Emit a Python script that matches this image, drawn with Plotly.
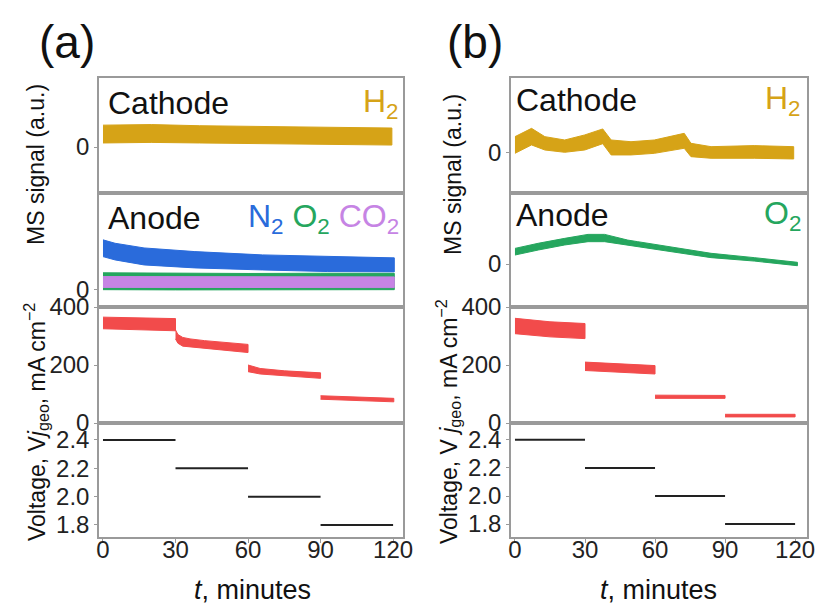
import plotly.graph_objects as go

# ---------------- data ----------------
# Panel (a)
a_h2_t = [0, 20, 40, 60, 80, 100, 119.5]
a_h2_hi = [1.90, 1.95, 1.85, 1.80, 1.75, 1.70, 1.65]
a_h2_lo = [0.35, 0.40, 0.35, 0.30, 0.25, 0.20, 0.17]

a_n2_t = [0, 5, 17, 38, 66, 93, 120.5]
a_n2_hi = [4.39, 4.09, 3.68, 3.36, 3.07, 2.92, 2.81]
a_n2_lo = [2.92, 2.63, 2.19, 1.93, 1.75, 1.61, 1.58]

a_o2_t = [0, 30, 60, 90, 120.5]
a_o2_hi = [1.50, 1.46, 1.44, 1.46, 1.45]
a_o2_lo = [0.02, 0.00, 0.02, 0.00, 0.02]

a_co2_t = [0, 30, 60, 90, 120.5]
a_co2_hi = [1.17, 1.15, 1.15, 1.14, 1.14]
a_co2_lo = [0.22, 0.20, 0.20, 0.21, 0.20]

a_j_t = [[0, 10, 20, 30], [30, 31, 33, 36, 42, 50, 60], [60, 65, 75, 90], [90, 120.3]]
a_j_hi = [[365, 363, 361, 360], [321, 305, 295, 290, 284, 278, 271], [200, 188, 180, 173], [94, 85]]
a_j_lo = [[325, 323, 320, 318], [290, 275, 265, 262, 257, 252, 243], [177, 169, 162, 154], [82, 73]]

# Panel (b)
b_h2_t = [0, 7.1, 12.8, 21.3, 29.9, 37.6, 41.2, 49.7, 59.7, 72.5, 75.4, 84, 102.5, 119.4]
b_h2_hi = [1.42, 2.14, 1.42, 1.13, 1.57, 2.09, 1.13, 0.98, 1.13, 1.71, 0.84, 0.55, 0.64, 0.55]
b_h2_lo = [-0.03, 0.70, 0.26, 0.06, 0.26, 0.81, -0.17, -0.17, -0.03, 0.41, -0.32, -0.46, -0.46, -0.52]

b_o2_t = [0, 10, 21.3, 31.3, 38.4, 48.3, 52.6, 66.8, 84, 102.5, 121]
b_o2_hi = [1.37, 1.82, 2.25, 2.60, 2.60, 2.10, 1.96, 1.52, 0.94, 0.56, 0.15]
b_o2_lo = [0.79, 1.23, 1.67, 1.96, 1.96, 1.67, 1.52, 1.08, 0.56, 0.26, -0.15]

b_j_t = [[0, 15, 30], [30, 45, 60], [60, 90], [90, 120]]
b_j_hi = [[361, 349, 343], [210, 204, 198], [96, 95], [30, 30]]
b_j_lo = [[308, 297, 291], [181, 176, 169], [85, 85], [21, 21]]

# Voltage steps (same protocol in both panels)
v_t_start = [0, 30, 60, 90]
v_t_end = [30, 60, 90, 120]
v_a = [2.4, 2.2, 2.0, 1.8]
v_b = [2.4, 2.2, 2.0, 1.8]

x_ticks = [0, 30, 60, 90, 120]
v_ticks = [1.8, 2.0, 2.2, 2.4]
v_tick_text = ["1.8", "2.0", "2.2", "2.4"]
j_ticks = [0, 200, 400]

# ---------------- styling ----------------
W, H = 816, 606
FONT = "Arial, Liberation Sans, sans-serif"
C_H2 = "#D6A317"
C_N2 = "#2A6BDB"
C_O2 = "#25A65E"
C_CO2 = "#C684E4"
C_J = "#F24B4B"
C_V = "#222222"
GRAY = "#9a9a9a"


def px(x):
    return x / W


def py(y):
    return 1 - y / H


col_dom = {"a": [px(99), px(403)], "b": [px(511), px(807)]}
col_xr = {"a": [-1.65, 124.1], "b": [-1.7, 125.1]}
row_dom = [
    [py(193), py(78)],
    [py(307), py(193)],
    [py(423), py(307)],
    [py(537), py(423)],
]

fig = go.Figure()


def band(t, lo, hi, color, ax):
    xs, ys = [], []
    for i in range(len(t)):
        tt, ll, hh = t[i], lo[i], hi[i]
        if xs:
            xs.append(None)
            ys.append(None)
        xs += list(tt) + list(tt[::-1])
        ys += list(hh) + list(ll[::-1])
    fig.add_trace(go.Scatter(x=xs, y=ys, mode="lines", fill="toself",
                             fillcolor=color, line=dict(color=color, width=1),
                             hoverinfo="skip", showlegend=False,
                             xaxis="x" + ax, yaxis="y" + ax))


def steps(t0, t1, v, ax):
    xs, ys = [], []
    for a, b, c in zip(t0, t1, v):
        xs += [a, b, None]
        ys += [c, c, None]
    fig.add_trace(go.Scatter(x=xs, y=ys, mode="lines",
                             line=dict(color=C_V, width=2),
                             hoverinfo="skip", showlegend=False,
                             xaxis="x" + ax, yaxis="y" + ax))


# axis ids: (a) rows -> "", 2, 3, 4 ; (b) rows -> 5, 6, 7, 8
ids = {"a": ["", "2", "3", "4"], "b": ["5", "6", "7", "8"]}

# panel (a)
band([a_h2_t], [a_h2_lo], [a_h2_hi], C_H2, ids["a"][0])
band([a_n2_t], [a_n2_lo], [a_n2_hi], C_N2, ids["a"][1])
band([a_o2_t], [a_o2_lo], [a_o2_hi], C_O2, ids["a"][1])
band([a_co2_t], [a_co2_lo], [a_co2_hi], C_CO2, ids["a"][1])
band(a_j_t, a_j_lo, a_j_hi, C_J, ids["a"][2])
steps(v_t_start, v_t_end, v_a, ids["a"][3])

# panel (b)
band([b_h2_t], [b_h2_lo], [b_h2_hi], C_H2, ids["b"][0])
band([b_o2_t], [b_o2_lo], [b_o2_hi], C_O2, ids["b"][1])
band(b_j_t, b_j_lo, b_j_hi, C_J, ids["b"][2])
steps(v_t_start, v_t_end, v_b, ids["b"][3])

y_ranges = {
    "a": [[-4, 6], [-1.5, 8.5], [0, 400], [1.715, 2.52]],
    "b": [[-3.48, 6.52], [-3.77, 6.23], [0, 400], [1.708, 2.52]],
}
tick_font = dict(family=FONT, size=24, color="#222")

layout = {}
for col in ["a", "b"]:
    for r in range(4):
        aid = ids[col][r]
        xkey = "xaxis" + aid
        ykey = "yaxis" + aid
        bottom = (r == 3)
        layout[xkey] = dict(
            domain=col_dom[col], range=col_xr[col], anchor="y" + aid,
            showline=True, mirror=True, linecolor=GRAY, linewidth=1.5,
            showgrid=False, zeroline=False, automargin=False,
            tickvals=x_ticks if bottom else [],
            showticklabels=bottom, ticks="outside" if bottom else "",
            ticklen=4, tickcolor=GRAY, tickfont=tick_font,
            ticklabeloverflow="allow",
        )
        if bottom:
            layout[xkey]["ticklabelstandoff"] = -14
        if r == 0 or r == 1:
            tv, tt = [0], ["0"]
        elif r == 2:
            tv, tt = j_ticks, [str(v) for v in j_ticks]
        else:
            tv, tt = v_ticks, v_tick_text
        layout[ykey] = dict(
            domain=row_dom[r], range=y_ranges[col][r], anchor="x" + aid,
            showline=True, mirror=True, linecolor=GRAY, linewidth=1.5,
            showgrid=False, zeroline=False, automargin=False,
            tickvals=tv, ticktext=tt, ticks="outside", ticklen=3,
            tickcolor=GRAY, tickfont=tick_font, ticklabeloverflow="allow",
        )

annotations = []


def txt(x, y, s, size, color="#111", xanchor="center", yanchor="middle", angle=0):
    annotations.append(dict(x=px(x), y=py(y), xref="paper", yref="paper",
                            text=s, showarrow=False, xanchor=xanchor,
                            yanchor=yanchor, textangle=angle,
                            font=dict(family=FONT, size=size, color=color)))


# panel letters
txt(67, 42, "(a)", 46)
txt(475, 42, "(b)", 46)

# panel (a) labels
txt(106, 103, "Cathode", 32, xanchor="left")
txt(401, 103, "H<sub>2</sub>", 32, color=C_H2, xanchor="right")
txt(106, 218, "Anode", 32, xanchor="left")
txt(401, 218,
    "<span style='color:%s'>N<sub>2</sub></span> "
    "<span style='color:%s'>O<sub>2</sub></span> "
    "<span style='color:%s'>CO<sub>2</sub></span>" % (C_N2, C_O2, C_CO2),
    32, xanchor="right")

# panel (b) labels
txt(514, 100, "Cathode", 32, xanchor="left")
txt(803, 100, "H<sub>2</sub>", 32, color=C_H2, xanchor="right")
txt(514, 215, "Anode", 32, xanchor="left")
txt(803, 215, "O<sub>2</sub>", 32, color=C_O2, xanchor="right")

# axis titles
txt(36, 165, "MS signal (a.u.)", 23, angle=-90)
txt(36, 422, "Voltage, V<i>j</i><sub>geo</sub>, mA cm<sup>\u22122</sup>", 23, angle=-90)
txt(453, 175, "MS signal (a.u.)", 23, angle=-90)
txt(448, 422, "Voltage, V <i>j</i><sub>geo</sub>, mA cm<sup>\u22122</sup>", 23, angle=-90)
txt(252, 590, "<i>t</i>, minutes", 27)
txt(658, 590, "<i>t</i>, minutes", 27)

fig.update_layout(
    width=W, height=H, margin=dict(l=0, r=0, t=0, b=0),
    paper_bgcolor="white", plot_bgcolor="white",
    showlegend=False, annotations=annotations, **layout,
)

fig.write_html(
    "out.html",
    config={"displayModeBar": False},
    post_script="document.body.style.margin='0';document.body.style.padding='0';"
                "document.documentElement.style.overflow='hidden';",
)
